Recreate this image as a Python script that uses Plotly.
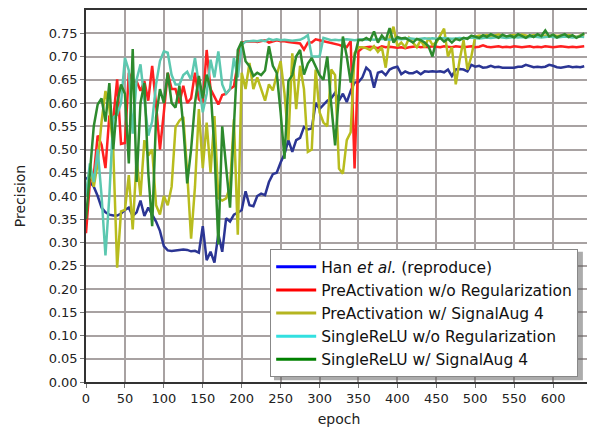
import plotly.graph_objects as go

# ---- data (epoch step 5) ----
han = [0.44, 0.43, 0.42, 0.40, 0.375, 0.365, 0.36, 0.358, 0.358, 0.362,
       0.37, 0.375, 0.357, 0.365, 0.39, 0.357, 0.375, 0.36, 0.345, 0.325,
       0.292, 0.283, 0.282, 0.283, 0.284, 0.285, 0.284, 0.281, 0.282, 0.278,
       0.335, 0.262, 0.28, 0.257, 0.318, 0.28, 0.352, 0.345, 0.36, 0.364,
       0.37, 0.41, 0.38, 0.378, 0.40, 0.405, 0.402, 0.43, 0.447, 0.45,
       0.472, 0.49, 0.52, 0.495, 0.52, 0.525, 0.548, 0.543, 0.545, 0.60,
       0.587, 0.595, 0.605, 0.61, 0.622, 0.605, 0.62, 0.602, 0.626, 0.644,
       0.645, 0.655, 0.676, 0.668, 0.633, 0.665, 0.668, 0.66, 0.672, 0.676,
       0.678, 0.662, 0.668, 0.664, 0.664, 0.668, 0.662, 0.668, 0.667, 0.668,
       0.667, 0.668, 0.666, 0.672, 0.658, 0.672, 0.673, 0.672, 0.668, 0.682,
       0.678, 0.68, 0.676, 0.677, 0.68, 0.677, 0.678, 0.676, 0.676, 0.677,
       0.676, 0.678, 0.678, 0.682, 0.679, 0.677, 0.678, 0.677, 0.678, 0.682,
       0.68, 0.677, 0.676, 0.678, 0.679, 0.677, 0.678, 0.677, 0.679]

pre_noreg = [0.32, 0.43, 0.445, 0.53, 0.51, 0.46, 0.573, 0.566, 0.651, 0.512,
             0.514, 0.665, 0.643, 0.647, 0.626, 0.647, 0.605, 0.68, 0.597, 0.50,
             0.58, 0.665, 0.63, 0.63, 0.60, 0.637, 0.60, 0.61, 0.665, 0.608,
             0.60, 0.714, 0.63, 0.615, 0.597, 0.617, 0.62, 0.63, 0.636, 0.686,
             0.729, 0.732, 0.732, 0.733, 0.731, 0.733, 0.735, 0.73, 0.732, 0.735,
             0.733, 0.733, 0.731, 0.73, 0.729, 0.728, 0.715, 0.73, 0.73, 0.737,
             0.735, 0.733, 0.731, 0.73, 0.727, 0.725, 0.722, 0.72, 0.733, 0.459,
             0.711, 0.718, 0.72, 0.721, 0.72, 0.718, 0.722, 0.72, 0.721, 0.72,
             0.719, 0.72, 0.718, 0.72, 0.721, 0.722, 0.72, 0.721, 0.72, 0.722,
             0.721, 0.72, 0.722, 0.721, 0.72, 0.722, 0.721, 0.72, 0.721, 0.722,
             0.72, 0.721, 0.724, 0.721, 0.72, 0.721, 0.722, 0.72, 0.721, 0.72,
             0.722, 0.721, 0.72, 0.721, 0.722, 0.72, 0.721, 0.72, 0.722, 0.721,
             0.72, 0.721, 0.722, 0.721, 0.72, 0.721, 0.72, 0.721, 0.722]

pre_aug = [0.40, 0.46, 0.42, 0.47, 0.56, 0.626, 0.59, 0.50, 0.246, 0.367,
           0.37, 0.445, 0.328, 0.48, 0.40, 0.52, 0.487, 0.50, 0.38, 0.36,
           0.40, 0.38, 0.42, 0.548, 0.562, 0.57, 0.45, 0.308, 0.42, 0.587,
           0.46, 0.558, 0.45, 0.572, 0.395, 0.39, 0.395, 0.42, 0.565, 0.317,
           0.665, 0.63, 0.686, 0.63, 0.655, 0.63, 0.605, 0.64, 0.627, 0.66,
           0.69, 0.62, 0.52, 0.707, 0.587, 0.68, 0.63, 0.495, 0.50, 0.672,
           0.58, 0.558, 0.55, 0.672, 0.66, 0.459, 0.448, 0.52, 0.537, 0.707,
           0.72, 0.72, 0.718, 0.714, 0.722, 0.71, 0.72, 0.676, 0.74, 0.764,
           0.722, 0.73, 0.72, 0.74, 0.73, 0.72, 0.735, 0.72, 0.74, 0.725,
           0.73, 0.745, 0.76, 0.70, 0.72, 0.64, 0.693, 0.735, 0.672, 0.70,
           0.743, 0.745, 0.744, 0.746, 0.743, 0.745, 0.747, 0.744, 0.742, 0.745,
           0.746, 0.744, 0.747, 0.745, 0.743, 0.746, 0.744, 0.742, 0.745, 0.743,
           0.746, 0.744, 0.745, 0.743, 0.746, 0.744, 0.742, 0.745, 0.747]

single_noreg = [0.40, 0.47, 0.43, 0.50, 0.40, 0.272, 0.40, 0.569, 0.575, 0.60,
                0.697, 0.67, 0.534, 0.65, 0.683, 0.60, 0.53, 0.56, 0.64, 0.69,
                0.711, 0.708, 0.66, 0.64, 0.64, 0.66, 0.667, 0.65, 0.697, 0.64,
                0.58, 0.62, 0.693, 0.655, 0.711, 0.64, 0.62, 0.63, 0.697, 0.655,
                0.725, 0.732, 0.733, 0.734, 0.733, 0.735, 0.733, 0.738, 0.735, 0.737,
                0.735, 0.736, 0.735, 0.734, 0.735, 0.736, 0.74, 0.746, 0.70, 0.70,
                0.70, 0.74, 0.738, 0.735, 0.736, 0.735, 0.736, 0.737, 0.736, 0.735,
                0.736, 0.737, 0.736, 0.737, 0.736, 0.737, 0.738, 0.737, 0.736, 0.737,
                0.738, 0.737, 0.738, 0.739, 0.738, 0.737, 0.738, 0.739, 0.738, 0.739,
                0.738, 0.739, 0.74, 0.739, 0.738, 0.739, 0.74, 0.739, 0.74, 0.741,
                0.74, 0.739, 0.74, 0.741, 0.74, 0.741, 0.742, 0.741, 0.74, 0.741,
                0.742, 0.741, 0.742, 0.741, 0.742, 0.743, 0.742, 0.741, 0.742, 0.743,
                0.742, 0.741, 0.742, 0.743, 0.742, 0.741, 0.742, 0.743, 0.742]

single_aug = [0.35, 0.45, 0.55, 0.597, 0.61, 0.56, 0.643, 0.50, 0.60, 0.64,
              0.62, 0.47, 0.716, 0.43, 0.60, 0.643, 0.45, 0.335, 0.569, 0.63,
              0.60, 0.665, 0.60, 0.59, 0.637, 0.55, 0.427, 0.50, 0.60, 0.658,
              0.61, 0.661, 0.63, 0.50, 0.296, 0.55, 0.47, 0.375, 0.55, 0.714,
              0.732, 0.69, 0.679, 0.658, 0.665, 0.66, 0.67, 0.722, 0.68, 0.665,
              0.58, 0.48, 0.647, 0.66, 0.70, 0.714, 0.661, 0.685, 0.697, 0.68,
              0.66, 0.65, 0.70, 0.597, 0.509, 0.62, 0.743, 0.70, 0.644, 0.70,
              0.736, 0.735, 0.74, 0.735, 0.754, 0.73, 0.745, 0.735, 0.761, 0.73,
              0.742, 0.739, 0.74, 0.735, 0.73, 0.738, 0.735, 0.73, 0.722, 0.70,
              0.735, 0.74, 0.732, 0.738, 0.73, 0.738, 0.735, 0.74, 0.738, 0.745,
              0.743, 0.74, 0.746, 0.742, 0.748, 0.744, 0.74, 0.747, 0.743, 0.745,
              0.741, 0.748, 0.744, 0.74, 0.746, 0.742, 0.748, 0.744, 0.756, 0.743,
              0.747, 0.741, 0.745, 0.748, 0.742, 0.746, 0.74, 0.744, 0.75]

epoch_step = 5

names = ["Han <i>et al.</i> (reproduce)",
         "PreActivation w/o Regularization",
         "PreActivation w/ SignalAug 4",
         "SingleReLU w/o Regularization",
         "SingleReLU w/ SignalAug 4"]
series = [han, pre_noreg, pre_aug, single_noreg, single_aug]
line_colors = ["#2b3594", "#ff2020", "#b8bc1e", "#5cc8b0", "#2d8a2d"]
legend_colors = ["#0000ff", "#ff0000", "#b5b520", "#33e0e0", "#008000"]

x_ticks = list(range(0, 601, 50))
y_ticks = [round(0.05 * i, 2) for i in range(16)]

fig = go.Figure()
for name, ys, c in zip(names, series, line_colors):
    fig.add_trace(go.Scatter(
        x=[epoch_step * i for i in range(len(ys))], y=ys, mode="lines",
        line=dict(color=c, width=2.5), showlegend=False, hoverinfo="skip"))
for name, c in zip(names, legend_colors):
    fig.add_trace(go.Scatter(x=[None], y=[None], mode="lines", name=name,
                             line=dict(color=c, width=3)))

# legend drop shadow (paper coordinates)
fig.add_shape(type="rect", xref="paper", yref="paper", layer="above",
              x0=0.3715, x1=0.982, y0=0.005, y1=0.350,
              fillcolor="rgba(90,90,90,0.5)", line=dict(width=0))

font = "DejaVu Sans"
fig.update_layout(
    width=587, height=420,
    margin=dict(l=78, r=3, t=0, b=46),
    paper_bgcolor="white", plot_bgcolor="white",
    font=dict(family=font, size=13, color="#222"),
    xaxis=dict(range=[0, 650], tickvals=x_ticks, showgrid=True,
               gridcolor="#a8a2a2", gridwidth=1.5, zeroline=False,
               showline=True, linecolor="#333", linewidth=1.5, mirror=True,
               ticks="outside", ticklen=4, tickcolor="#777",
               title=dict(text="epoch", font=dict(size=14), standoff=9)),
    yaxis=dict(range=[0, 0.8], tickvals=y_ticks, tickformat=".2f", showgrid=True,
               gridcolor="#a8a2a2", gridwidth=1.5, zeroline=False,
               showline=True, linecolor="#333", linewidth=1.5, mirror=True,
               ticks="outside", ticklen=4, tickcolor="#777",
               title=dict(text="Precision", font=dict(size=14), standoff=20)),
    legend=dict(x=0.364, y=0.357, xanchor="left", yanchor="top",
                bgcolor="white", bordercolor="#888", borderwidth=1,
                font=dict(family=font, size=15.5, color="#111"),
                itemwidth=40, tracegroupgap=0),
)
fig.write_html("out.html")
